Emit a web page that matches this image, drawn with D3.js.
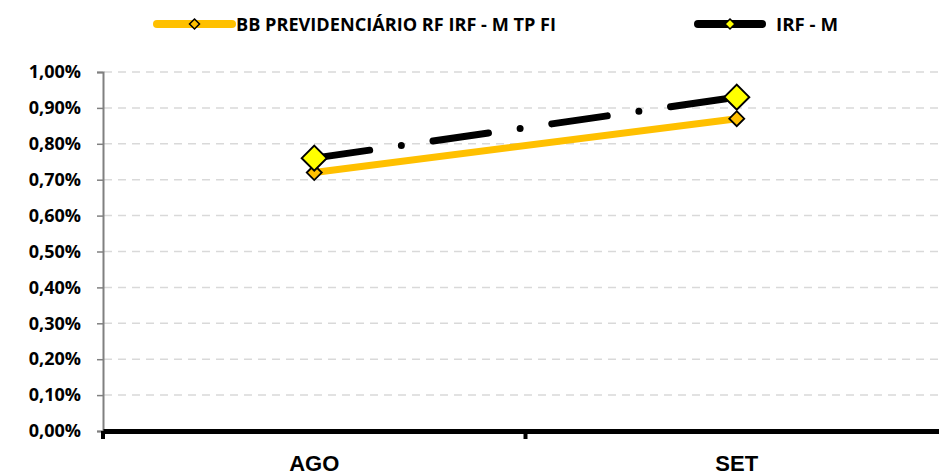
<!DOCTYPE html>
<html><head><meta charset="utf-8">
<script src="https://cdn.jsdelivr.net/npm/d3@7"></script>
<style>
html,body{margin:0;padding:0;background:#fff;}
svg{display:block;font-family:"Open Sans",sans-serif;font-weight:bold;}
</style></head>
<body><svg id="c" width="939" height="476"></svg>
<script>
const categories = ["AGO", "SET"];
const seriesNames = ["BB PREVIDENCIÁRIO RF IRF - M TP FI", "IRF - M"];
const bbValues = [0.0072, 0.0087];
const irfValues = [0.0076, 0.0093];
const yTicks = [0, 0.001, 0.002, 0.003, 0.004, 0.005, 0.006, 0.007, 0.008, 0.009, 0.010];

const locale = d3.formatLocale({decimal: ",", thousands: ".", grouping: [3], currency: ["R$", ""]});
const fmt = locale.format(".2%");

const svg = d3.select("#c");
const W = 939;
const x = d3.scaleBand().domain(categories).range([103, 948]);
const y = d3.scaleLinear().domain([0, 0.01]).range([431, 72]);

// gridlines
svg.append("g").selectAll("line").data(yTicks.slice(1)).join("line")
  .attr("x1", 104).attr("x2", W)
  .attr("y1", d => y(d)).attr("y2", d => y(d))
  .attr("stroke", "#d9d9d9").attr("stroke-width", 1.5)
  .attr("stroke-dasharray", "8,6");

// y axis
const yAxis = d3.axisLeft(y).tickValues(yTicks).tickFormat(fmt).tickSize(6).tickPadding(16);
const gy = svg.append("g").attr("transform", "translate(103,0)").call(yAxis);
gy.select(".domain").attr("stroke", "#808080").attr("stroke-width", 2);
gy.selectAll(".tick line").attr("stroke", "#808080").attr("stroke-width", 1.5);
gy.selectAll(".tick text").attr("fill", "#000").style("font-size", "18px")
  .style("font-family", "'Open Sans',sans-serif").style("font-weight", "bold");

// x axis
const xAxis = d3.axisBottom(x).tickValues([]).tickSize(0);
const gx = svg.append("g").attr("transform", "translate(0,431)").call(xAxis);
gx.select(".domain").attr("stroke", "#000").attr("stroke-width", 5);
// category boundary ticks
const bounds = [x.range()[0], x(categories[1]), x.range()[1]];
gx.selectAll(".btick").data(bounds).join("line").attr("class", "btick")
  .attr("x1", d => d).attr("x2", d => d).attr("y1", 0).attr("y2", 8)
  .attr("stroke", "#000").attr("stroke-width", 4);
gx.selectAll(".clabel").data(categories).join("text").attr("class", "clabel")
  .attr("x", d => x(d) + x.bandwidth() / 2).attr("y", 40)
  .attr("text-anchor", "middle").style("font-size", "22px").attr("fill", "#000")
  .text(d => d);

const cx = d => x(d) + x.bandwidth() / 2;
const line = vals => d3.line().x((d, i) => cx(categories[i])).y(d => y(d))(vals);
const diamond = r => `M0,${-r}L${r},0L0,${r}L${-r},0Z`;

// BB series
svg.append("path").attr("d", line(bbValues)).attr("fill", "none")
  .attr("stroke", "#FFC000").attr("stroke-width", 7).attr("stroke-linecap", "round");
svg.append("g").selectAll("path").data(bbValues).join("path")
  .attr("transform", (d, i) => `translate(${cx(categories[i])},${y(d)})`)
  .attr("d", diamond(7.5)).attr("fill", "#FFC000").attr("stroke", "#000").attr("stroke-width", 1.8);

// IRF-M series
svg.append("path").attr("d", line(irfValues)).attr("fill", "none")
  .attr("stroke", "#000").attr("stroke-width", 7).attr("stroke-linecap", "round")
  .attr("stroke-dasharray", "56,32,0,32");
svg.append("g").selectAll("path").data(irfValues).join("path")
  .attr("transform", (d, i) => `translate(${cx(categories[i])},${y(d)})`)
  .attr("d", diamond(12.5)).attr("fill", "#FFFF00").attr("stroke", "#000").attr("stroke-width", 2);

// legend
const leg = svg.append("g");
const L = [
  {x1: 157, x2: 232, color: "#FFC000", mfill: "#FFC000", tx: 236, tw: 320, name: seriesNames[0]},
  {x1: 698, x2: 762, color: "#000", mfill: "#FFFF00", tx: 776, tw: 62, name: seriesNames[1]}
];
L.forEach(l => {
  leg.append("line").attr("x1", l.x1).attr("x2", l.x2).attr("y1", 24).attr("y2", 24)
    .attr("stroke", l.color).attr("stroke-width", 8).attr("stroke-linecap", "round");
  leg.append("path").attr("transform", `translate(${(l.x1 + l.x2) / 2},24)`)
    .attr("d", diamond(5)).attr("fill", l.mfill).attr("stroke", "#000").attr("stroke-width", 1.5);
  leg.append("text").attr("x", l.tx).attr("y", 30.5).style("font-size", "18px").attr("fill", "#000")
    .attr("textLength", l.tw).attr("lengthAdjust", "spacingAndGlyphs").text(l.name);
});
</script></body></html>
